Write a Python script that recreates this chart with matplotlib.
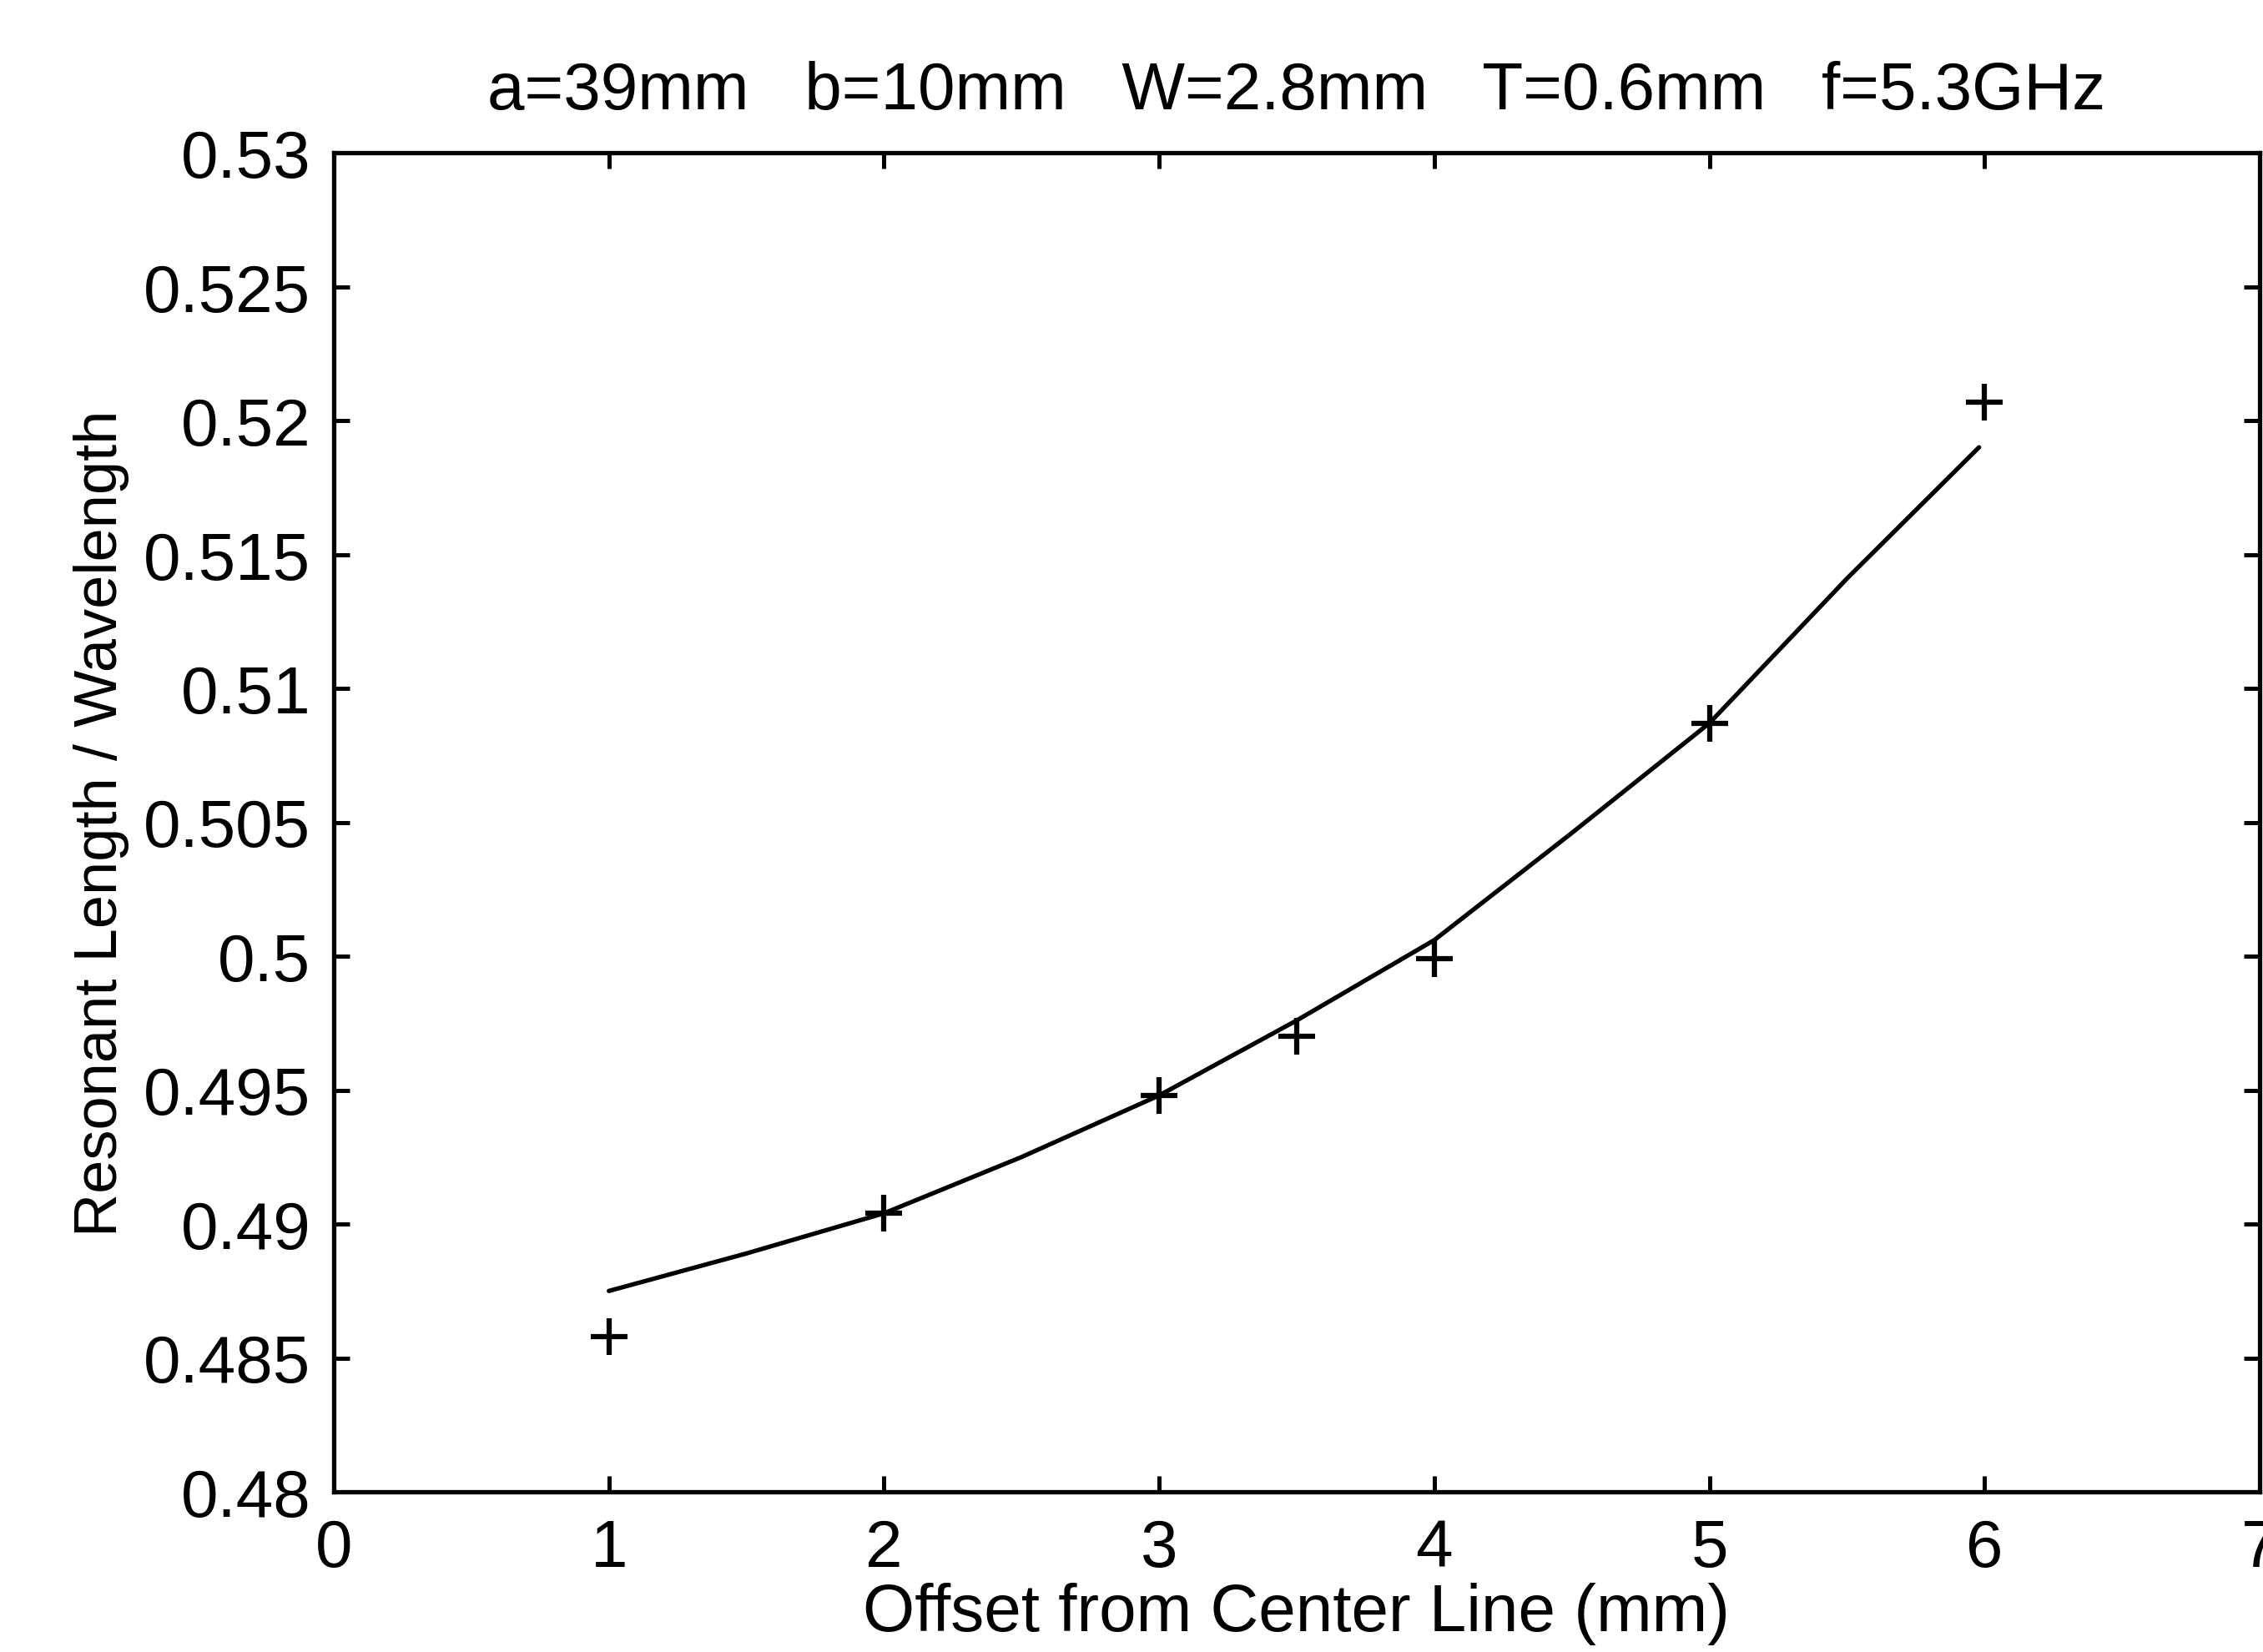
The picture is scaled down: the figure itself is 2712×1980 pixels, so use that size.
import matplotlib
matplotlib.use("Agg")
import matplotlib.pyplot as plt

# ---- data ----
offset_mm = [1, 2, 3, 3.5, 4, 5, 6]
ratio_measured = [0.4858, 0.4904, 0.4948, 0.4970, 0.4999, 0.5087, 0.5207]

fit_x = [1, 1.5, 2, 2.5, 3, 3.5, 4, 4.5, 5, 5.5, 5.98]
fit_y = [0.4875, 0.4889, 0.4904, 0.4925, 0.4948, 0.4976, 0.5006, 0.5046, 0.5087, 0.5141, 0.5190]

x_ticks = [0, 1, 2, 3, 4, 5, 6, 7]
y_ticks = [0.48, 0.485, 0.49, 0.495, 0.5, 0.505, 0.51, 0.515, 0.52, 0.525, 0.53]
y_tick_labels = ["0.48", "0.485", "0.49", "0.495", "0.5", "0.505", "0.51", "0.515", "0.52", "0.525", "0.53"]

title_text = "a=39mm   b=10mm   W=2.8mm   T=0.6mm   f=5.3GHz"
x_label = "Offset from Center Line (mm)"
y_label = "Resonant Length / Wavelength"

plt.rcParams['font.family'] = ['Liberation Sans', 'DejaVu Sans']

W, H, DPI = 2712, 1981, 100
fig = plt.figure(figsize=(W / DPI, H / DPI), dpi=DPI)
ax = fig.add_axes([400 / W, 1 - 1789 / H, (2708 - 400) / W, (1789 - 184) / H])

ax.plot(fit_x, fit_y, color="black", lw=3.8, solid_capstyle="round",
        solid_joinstyle="round")
ax.plot(offset_mm, ratio_measured, linestyle="none", marker="+", color="black",
        markersize=32, markeredgewidth=4.5)

ax.set_xlim(0, 7)
ax.set_ylim(0.48, 0.53)
ax.set_xticks(x_ticks)
ax.set_xticklabels([str(t) for t in x_ticks])
ax.set_yticks(y_ticks)
ax.set_yticklabels(y_tick_labels)

fs = 57.6
ax.tick_params(direction="in", length=14, width=3.6, top=True, right=True,
               labelsize=fs, pad=20, colors="black")
ax.tick_params(axis="x", pad=22)
for s in ax.spines.values():
    s.set_linewidth(3.8)
    s.set_color("black")

ax.set_title(title_text, fontsize=fs, pad=38)
ax.set_xlabel(x_label, fontsize=fs, labelpad=2)
ax.set_ylabel(y_label, fontsize=52, labelpad=12)

fig.savefig("out.png", dpi=DPI, facecolor="white")
